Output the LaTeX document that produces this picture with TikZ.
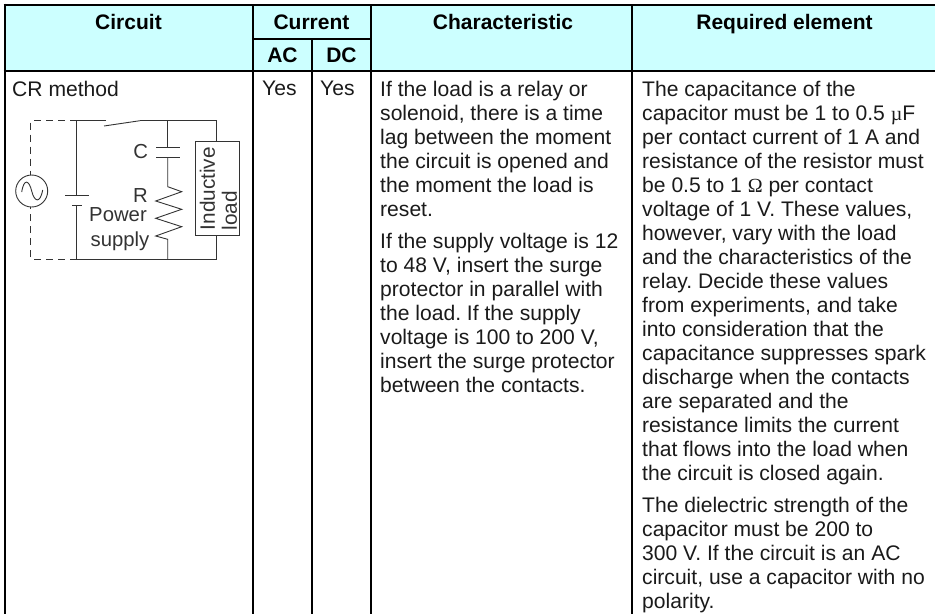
\documentclass[tikz,border=0pt]{standalone}
\usepackage{fontspec}
\setmainfont{Liberation Sans}
\newfontfamily\symfont{Liberation Serif}
\definecolor{headbg}{HTML}{CCFFFF}
\definecolor{wirecol}{HTML}{333333}
\definecolor{txtcol}{HTML}{1A1A1A}
\tikzset{
  x=1pt,y=-1pt,
  rulebold/.style={line width=2.8pt,black},
  rulethin/.style={line width=2pt,black},
  wire/.style={line width=0.9pt,wirecol},
  dashwire/.style={wire,dash pattern=on 7pt off 5pt},
  headtxt/.style={font=\fontsize{21}{21}\selectfont\bfseries,inner sep=0pt,anchor=base},
  celltxt/.style={font=\fontsize{21.1}{24}\selectfont,inner sep=0pt,anchor=north west,align=left,text=txtcol},
  ctxt/.style={font=\fontsize{20.3}{21}\selectfont,inner sep=0pt,anchor=base,text=wirecol},
}
\newcommand{\mic}{{\fontsize{20}{20}\selectfont\symfont µ}}
\newcommand{\ohm}{{\fontsize{20}{20}\selectfont\symfont Ω}}
\begin{document}
\frenchspacing
\begin{tikzpicture}
\useasboundingbox (0,0) rectangle (935,614);
\fill[headbg] (5,5) rectangle (935,71);
% rules
\draw[rulebold] (3.6,5) -- (935,5);
\draw[rulebold] (3.6,71) -- (935,71);
\draw[rulebold] (5,3.6) -- (5,614);
\draw[rulethin] (253,5) -- (253,614);
\draw[rulethin] (371,5) -- (371,614);
\draw[rulethin] (632,5) -- (632,614);
\draw[rulethin] (312,38.5) -- (312,614);
\draw[rulethin] (253,38.5) -- (371,38.5);
% headers
\node[headtxt] (h1) at (128.5,29) {Circuit};
\node[headtxt] (h2) at (311.5,29) {Current};
\node[headtxt] (h3) at (503,29) {Characteristic};
\node[headtxt] (h4) at (784.5,29) {Required element};
\node[headtxt] (hac) at (282.5,62) {AC};
\node[headtxt] (hdc) at (341.5,62) {DC};
% cells
\node[celltxt] (c1) at (12,80.7) {CR method};
\node[celltxt] (c2) at (262,80.7) {Yes};
\node[celltxt] (c3) at (320,80.7) {Yes};
\node[celltxt] (c4) at (380,80.7) {If the load is a relay or\\solenoid, there is a time\\lag between the moment\\the circuit is opened and\\the moment the load is\\reset.};
\node[celltxt] (c5) at (380,232.7) {If the supply voltage is 12\\to 48 V, insert the surge\\protector in parallel with\\the load. If the supply\\voltage is 100 to 200 V,\\insert the surge protector\\between the contacts.};
\node[celltxt] (c6) at (642,80.7) {The capacitance of the\\capacitor must be 1 to 0.5 \mic F\\per contact current of 1 A and\\resistance of the resistor must\\be 0.5 to 1 \ohm{} per contact\\voltage of 1 V. These values,\\however, vary with the load\\and the characteristics of the\\relay. Decide these values\\from experiments, and take\\into consideration that the\\capacitance suppresses spark\\discharge when the contacts\\are separated and the\\resistance limits the current\\that flows into the load when\\the circuit is closed again.};
\node[celltxt] (c7) at (642,496.7) {The dielectric strength of the\\capacitor must be 200 to\\300 V. If the circuit is an AC\\circuit, use a capacitor with no\\polarity.};
% circuit
\coordinate (tl) at (30.7,120.7); \coordinate (bl) at (30.7,259);
\coordinate (t1) at (76.7,120.7); \coordinate (b1) at (76.7,259);
\node[circle,draw=wirecol,line width=0.9pt,minimum size=32pt,inner sep=0pt] (src) at (31.7,191) {};
\draw[wire] (21.7,192) .. controls (24,178) and (29,180) .. (31.7,191) .. controls (34.4,202) and (40,204) .. (42.7,190);
\draw[dashwire] (t1) -- (tl) -- (tl |- src.north);
\draw[dashwire] (b1) -- (bl) -- (bl |- src.south);
\coordinate (swa) at (106,120.7); \coordinate (swb) at (104,126); \coordinate (swc) at (140,120.7);
\coordinate (tr) at (216,120.7); \coordinate (br) at (216,259);
\coordinate (cj) at (167.7,120.7); \coordinate (rj) at (167.7,259);
\draw[wire] (swa) -- (t1) -- (76.7,195.7);
\draw[wire] (65,195.7) -- (89,195.7);
\draw[wire] (72,205) -- (82,205);
\draw[wire] (76.7,205) -- (b1);
\draw[wire] (swb) -- (swc);
\node[draw=wirecol,line width=0.9pt,inner sep=0pt,minimum width=44.3pt,minimum height=93.3pt] (load) at (217.2,188.3) {};
\draw[wire] (swc) -- (tr) -- (tr |- load.north);
\node[rotate=90,inner sep=0pt,anchor=north west,align=left,font=\fontsize{20.8}{22}\selectfont,text=wirecol] (loadt) at (199.5,230.5) {Inductive\\load};
\draw[wire] (br |- load.south) -- (br) -- (b1);
\draw[wire] (cj) -- (167.7,147.7);
\draw[wire] (156,147.7) -- (180,147.7);
\draw[wire] (156,157) -- (180,157);
\draw[wire] (167.7,157) -- (167.7,186.7) -- (181.7,191.7) -- (155.7,201) -- (181.7,209.3) -- (155.7,218.3) -- (181.7,226.7) -- (155.7,236) -- (167.7,239.3) -- (rj);
\node[ctxt] (cl) at (140.7,158) {C};
\node[ctxt] (rl) at (140.5,202.5) {R};
\node[ctxt] (pw) at (118,221.7) {Power};
\node[ctxt] (sp) at (120,246) {supply};
\end{tikzpicture}
\end{document}
